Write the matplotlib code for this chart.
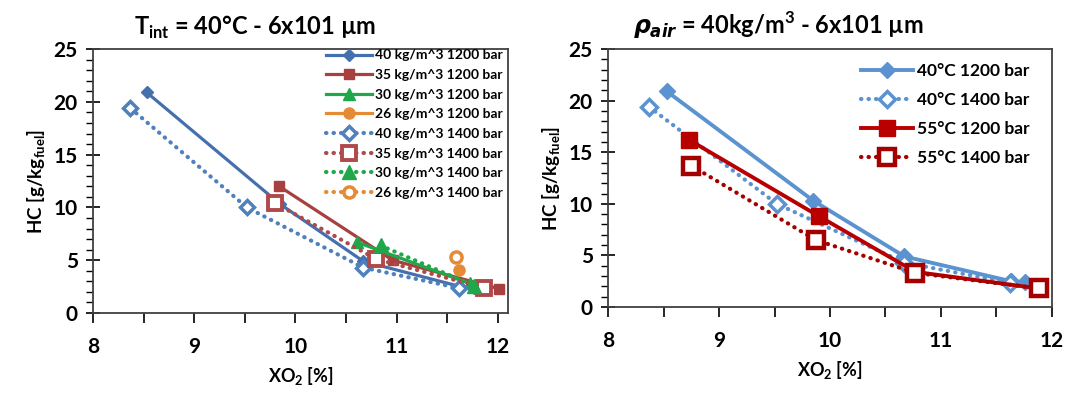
import numpy as np
import matplotlib.pyplot as plt
from matplotlib.ticker import MultipleLocator

plt.rcParams['font.family'] = ['Lato', 'DejaVu Sans']
plt.rcParams['font.weight'] = 'bold'
plt.rcParams['axes.labelweight'] = 'bold'
plt.rcParams['mathtext.fontset'] = 'custom'
plt.rcParams['mathtext.rm'] = 'Lato:bold'
plt.rcParams['mathtext.bf'] = 'Lato:bold'
plt.rcParams['mathtext.it'] = 'DejaVu Sans:italic:bold'

# left panel: T_int = 40 C, different air densities
x40_1200 = [8.53, 9.85, 10.67, 11.63, 11.76]
hc40_1200 = [20.9, 10.3, 4.9, 2.5, 2.4]
x35_1200 = [9.84, 10.96, 12.01]
hc35_1200 = [12.0, 5.0, 2.3]
x30_1200 = [10.61, 11.72]
hc30_1200 = [6.7, 2.8]
x26_1200 = [11.62]
hc26_1200 = [4.1]
x40_1400 = [8.37, 9.52, 10.67, 11.62]
hc40_1400 = [19.4, 10.0, 4.3, 2.35]
x35_1400 = [9.80, 10.80, 11.86]
hc35_1400 = [10.4, 5.1, 2.4]
x30_1400 = [10.84, 11.76]
hc30_1400 = [6.4, 2.6]
x26_1400 = [11.59]
hc26_1400 = [5.3]

# right panel: rho_air = 40 kg/m3, two intake temperatures
x55_1200 = [8.73, 9.90, 10.77, 11.88]
hc55_1200 = [16.2, 8.8, 3.4, 1.8]
x55_1400 = [8.75, 9.87, 10.77, 11.88]
hc55_1400 = [13.7, 6.5, 3.3, 1.8]

dots = (0, (0.1, 1.7))

fig = plt.figure(figsize=(10.68, 3.95), dpi=100)
ax1 = fig.add_axes([0.0871, 0.2076, 0.3886, 0.668])
ax2 = fig.add_axes([0.5693, 0.2228, 0.4157, 0.653])

lw = 2.3
ax1.plot(x40_1200, hc40_1200, color='#4570AE', lw=lw, marker='D', ms=6, label='40 kg/m^3 1200 bar')
ax1.plot(x35_1200, hc35_1200, color='#A8403F', lw=lw, marker='s', ms=7, label='35 kg/m^3 1200 bar')
ax1.plot(x30_1200, hc30_1200, color='#1FA84A', lw=lw, marker='^', ms=9, label='30 kg/m^3 1200 bar')
ax1.plot(x26_1200, hc26_1200, color='#E58A35', lw=lw, marker='o', ms=8, label='26 kg/m^3 1200 bar')
ax1.plot(x40_1400, hc40_1400, color='#4F81BD', lw=3, ls=dots, dash_capstyle='round', marker='D', ms=7,
         mfc='white', mew=2.5, label='40 kg/m^3 1400 bar')
ax1.plot(x35_1400, hc35_1400, color='#B04A4A', lw=3, ls=dots, dash_capstyle='round', marker='s', ms=10,
         mfc='white', mew=2.8, label='35 kg/m^3 1400 bar')
ax1.plot(x30_1400, hc30_1400, color='#1FA84A', lw=3, ls=dots, dash_capstyle='round', marker='^', ms=10,
         label='30 kg/m^3 1400 bar')
ax1.plot(x26_1400, hc26_1400, color='#E58A35', lw=3, ls=dots, dash_capstyle='round', marker='o', ms=8,
         mfc='white', mew=2.5, label='26 kg/m^3 1400 bar')

ax2.plot(x40_1200, hc40_1200, color='#5B93D0', lw=2.8, marker='D', ms=8, label='40°C 1200 bar')
ax2.plot(x40_1400, hc40_1400, color='#5B93D0', lw=3, ls=dots, dash_capstyle='round', marker='D', ms=8,
         mfc='white', mew=2.5, label='40°C 1400 bar')
ax2.plot(x55_1200, hc55_1200, color='#B80000', lw=2.8, marker='s', ms=12, label='55°C 1200 bar')
ax2.plot(x55_1400, hc55_1400, color='#A50000', lw=3, ls=dots, dash_capstyle='round', marker='s', ms=11,
         mfc='white', mew=3.2, label='55°C 1400 bar')

for ax in (ax1, ax2):
    ax.set_ylim(0, 25)
    ax.yaxis.set_major_locator(MultipleLocator(5))
    ax.yaxis.set_minor_locator(MultipleLocator(1))
    ax.xaxis.set_major_locator(MultipleLocator(1))
    ax.xaxis.set_minor_locator(MultipleLocator(0.5))
    ax.tick_params(axis='y', which='major', direction='inout', length=10, width=1.2, labelsize=15, pad=6)
    ax.tick_params(axis='y', which='minor', direction='out', length=5, width=1)
    ax.tick_params(axis='x', which='both', direction='out', length=7, width=1.2, labelsize=15, pad=10)
    ax.tick_params(axis='x', which='minor', labelbottom=False)
    for s in ax.spines.values():
        s.set_color('#404040')
        s.set_linewidth(1.3)
    ax.set_xlabel(r'XO$_\mathrm{2}$ [%]', fontsize=13, labelpad=6)
    ax.set_ylabel(r'HC [g/kg$_\mathrm{fuel}$]', fontsize=13.5, labelpad=4)

ax1.set_xlim(8, 12.1)
ax2.set_xlim(8, 12)
ax1.set_xticks([8, 9, 10, 11, 12])

ax1.text(0.39, 1.03, r'T$_\mathrm{int}$ = 40°C - 6x101 µm', transform=ax1.transAxes,
         ha='center', va='bottom', fontsize=17)
ax2.text(0.383, 1.03, r'$\rho_{air}$ = 40kg/m$^\mathrm{3}$ - 6x101 µm', transform=ax2.transAxes,
         ha='center', va='bottom', fontsize=17)

ax1.legend(loc='upper right', bbox_to_anchor=(1.0, 1.02), frameon=False, fontsize=10,
           handlelength=3.3, handletextpad=0.2, labelspacing=0.55, borderpad=0.2, borderaxespad=0.2)
ax2.legend(loc='upper right', bbox_to_anchor=(0.98, 1.0), frameon=False, fontsize=12.5,
           handlelength=3.0, handletextpad=0.2, labelspacing=0.75, borderpad=0.3)

fig.savefig('out.png', dpi=100)
